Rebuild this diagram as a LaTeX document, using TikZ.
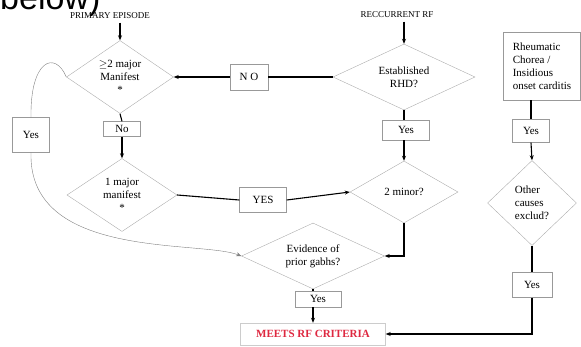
\documentclass[tikz,border=0pt]{standalone}
\usepackage{fontspec}
\setmainfont{Liberation Serif}
\newfontfamily\headfont{Liberation Sans}
\usetikzlibrary{arrows.meta, shapes.geometric}
\definecolor{critred}{RGB}{222,40,64}

\begin{document}
\begin{tikzpicture}[x=1pt, y=-1pt, font=\fontsize{11}{13}\selectfont,
  test/.style={diamond, draw=gray!65, inner sep=0pt, align=center},
  ans/.style={rectangle, draw=gray!80, inner sep=1pt},
  flow/.style={black, line width=1.1pt},
  >={Stealth[length=5pt, width=4pt]}]
\useasboundingbox (0,0) rectangle (581,346);
\clip (0,0) rectangle (581,346);

\node[anchor=base west, inner sep=0pt, font=\headfont\fontsize{34}{34}\selectfont] (head) at (0,9) {below)};
\node[font=\fontsize{9}{10}\selectfont] (pri) at (110,16) {PRIMARY EPISODE};
\node[font=\fontsize{9}{10}\selectfont] (rec) at (397,15) {RECCURRENT RF};

\node[test, minimum width=107pt, minimum height=73pt, aspect=1.47] (d1) at (120,77) {$\geq$2 major\\Manifest\\*};
\node[test, minimum width=142pt, minimum height=66pt, aspect=2.15] (d2) at (404,77) {Established\\RHD?};
\node[test, minimum width=108pt, minimum height=62pt, aspect=1.74] (d3) at (404,192) {2 minor?};
\node[test, minimum width=110pt, minimum height=73pt, aspect=1.5] (d4) at (122,195) {1 major\\manifest\\*};
\node[test, minimum width=143pt, minimum height=66pt, aspect=2.17] (d5) at (313,256) {Evidence of\\prior gabhs?};
\node[test, minimum width=89pt, minimum height=85pt, aspect=1.05, align=left] (d6) at (532,203) {Other\\causes\\exclud?};

\node[ans, minimum width=38pt, minimum height=26pt] (no) at (249,77) {N O};
\node[ans, minimum width=37pt, minimum height=15pt] (no1) at (122,129) {No};
\node[ans, minimum width=37pt, minimum height=35pt] (yl) at (31,135) {Yes};
\node[ans, minimum width=47pt, minimum height=20pt] (y2) at (406,130) {Yes};
\node[ans, minimum width=47pt, minimum height=25pt] (yes) at (263,200) {YES};
\node[ans, minimum width=46pt, minimum height=16pt] (y5) at (318,299) {Yes};
\node[ans, minimum width=77pt, minimum height=68pt, align=left] (rc) at (542,66) {Rheumatic\\Chorea /\\Insidious\\onset carditis};
\node[ans, minimum width=37pt, minimum height=23pt] (y6) at (531,131) {Yes};
\node[ans, minimum width=40pt, minimum height=25pt] (y7) at (532,285) {Yes};
\node[rectangle, draw=gray!40, minimum width=145pt, minimum height=22pt, text=critred, font=\bfseries\fontsize{11}{13}\selectfont] (meets) at (313,334) {MEETS RF CRITERIA};

\draw[flow, ->] (d1.north |- pri.south) -- (d1.north);
\draw[flow, ->] (d2.north |- rec.south) -- (d2.north);
\draw[flow] (d2.west) -- (no.east);
\draw[flow, ->] (no.west) -- (d1.east);
\draw[flow] (d2.south) -- (d2.south |- y2.north);
\draw[flow, ->] (d2.south |- y2.south) -- (d3.north);
\draw[flow] (d1.south) -- (no1.north);
\draw[flow, ->] (no1.south) -- (d4.north);
\draw[flow] (d4.east) -- (yes.west);
\draw[flow, ->] (yes.east) -- (d3.west);
\draw[flow, ->] (d3.south) |- (d5.east);
\draw[flow] (d5.south) -- (d5.south |- y5.north);
\draw[flow, ->] (d5.south |- y5.south) -- (meets.north);
\draw[flow] (y6.north |- rc.south) -- (y6.north);
\draw[flow, ->] (y6.south) -- (d6.north);
\draw[flow] (d6.south) -- (y7.north);
\draw[flow, ->] (y7.south) |- (meets.east);
\draw[gray] (d1.west) .. controls (55,50) and (30,60) .. (yl.north);
\draw[gray, ->] (yl.south) .. controls (28,260) and (200,240) .. (d5.west);
\end{tikzpicture}
\end{document}
